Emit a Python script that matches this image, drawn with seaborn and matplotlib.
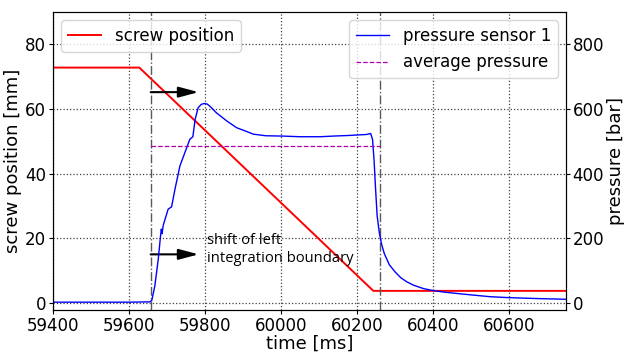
import matplotlib
matplotlib.use("Agg")
import matplotlib.pyplot as plt
import seaborn as sns
import pandas as pd

# --- data ---
screw_t = [59400, 59627, 60243, 60750]
screw_mm = [72.8, 72.8, 3.7, 3.7]

press_t = [59400, 59500, 59600, 59655, 59660, 59668, 59677, 59683, 59685, 59687, 59690,
           59703, 59712, 59721, 59734, 59747, 59760, 59768, 59774, 59782, 59790, 59798,
           59806, 59815, 59830, 59857, 59883, 59910, 59927, 59960, 60005, 60050, 60103,
           60137, 60180, 60225, 60236, 60241, 60245, 60249, 60253, 60259, 60265, 60272,
           60285, 60300, 60315, 60331, 60350, 60375, 60400, 60430, 60471, 60505, 60550,
           60600, 60680, 60750]
press_bar = [2, 2, 2, 3, 8, 53, 136, 208, 228, 214, 240,
             290, 297, 352, 424, 465, 506, 514, 568, 604, 614, 617,
             615, 606, 588, 563, 542, 530, 522, 517, 516, 514, 514,
             516, 518, 521, 524, 505, 440, 350, 270, 215, 180, 152,
             118, 96, 78, 65, 54, 44, 38, 33, 28, 24, 19,
             16, 13, 11]

avg_t = [59657, 60260]
avg_bar = [484, 484]

boundaries = [59657, 60260]
xticks = [59400, 59600, 59800, 60000, 60200, 60400, 60600]

screw_df = pd.DataFrame({"t": screw_t, "v": screw_mm})
press_df = pd.DataFrame({"t": press_t, "v": press_bar})
avg_df = pd.DataFrame({"t": avg_t, "v": avg_bar})

fig = plt.figure(figsize=(6.24, 3.53), dpi=100)
ax = fig.add_axes([0.085, 0.122, 0.822, 0.844])
ax2 = ax.twinx()

sns.lineplot(data=screw_df, x="t", y="v", ax=ax, color="red", linewidth=1.4,
             label="screw position")
sns.lineplot(data=press_df, x="t", y="v", ax=ax2, color="blue", linewidth=1.0,
             label="pressure sensor 1")
sns.lineplot(data=avg_df, x="t", y="v", ax=ax2, color="#b000b0", linewidth=0.9,
             linestyle="--", label="average pressure")

for b in boundaries:
    ax.axvline(b, color="0.35", linestyle="-.", linewidth=1.0)

ax.set_xlim(59400, 60750)
ax.set_ylim(-2.2, 90)
ax2.set_ylim(-22, 900)
ax.set_xticks(xticks)
ax.set_yticks([0, 20, 40, 60, 80])
ax2.set_yticks([0, 200, 400, 600, 800])
ax.grid(True, color="0.25", linestyle=":", linewidth=0.9)
ax.set_axisbelow(True)

ax.tick_params(labelsize=12, length=3, pad=1.8)
ax2.tick_params(labelsize=12, length=3, pad=1.8)
ax.set_xlabel("time [ms]", fontsize=13, labelpad=0)
ax.set_ylabel("screw position [mm]", fontsize=13, labelpad=2)
ax2.set_ylabel("pressure [bar]", fontsize=13, labelpad=2)

arrow_kw = dict(arrowstyle="-|>,head_length=0.6,head_width=0.16", color="k", lw=1.5,
                mutation_scale=20, shrinkA=0, shrinkB=0)
ax.annotate("", xy=(59783, 65.2), xytext=(59657, 65.2), arrowprops=arrow_kw)
ax.annotate("", xy=(59783, 15.0), xytext=(59657, 15.0), arrowprops=arrow_kw)
ax.text(59806, 16.6, "shift of left\nintegration boundary", fontsize=10.6,
        family="Open Sans", ha="left", va="center", linespacing=1.25)

ax.legend(loc="upper left", fontsize=12)
ax2.legend(loc="upper right", fontsize=12)

fig.savefig("out.png", dpi=100)
